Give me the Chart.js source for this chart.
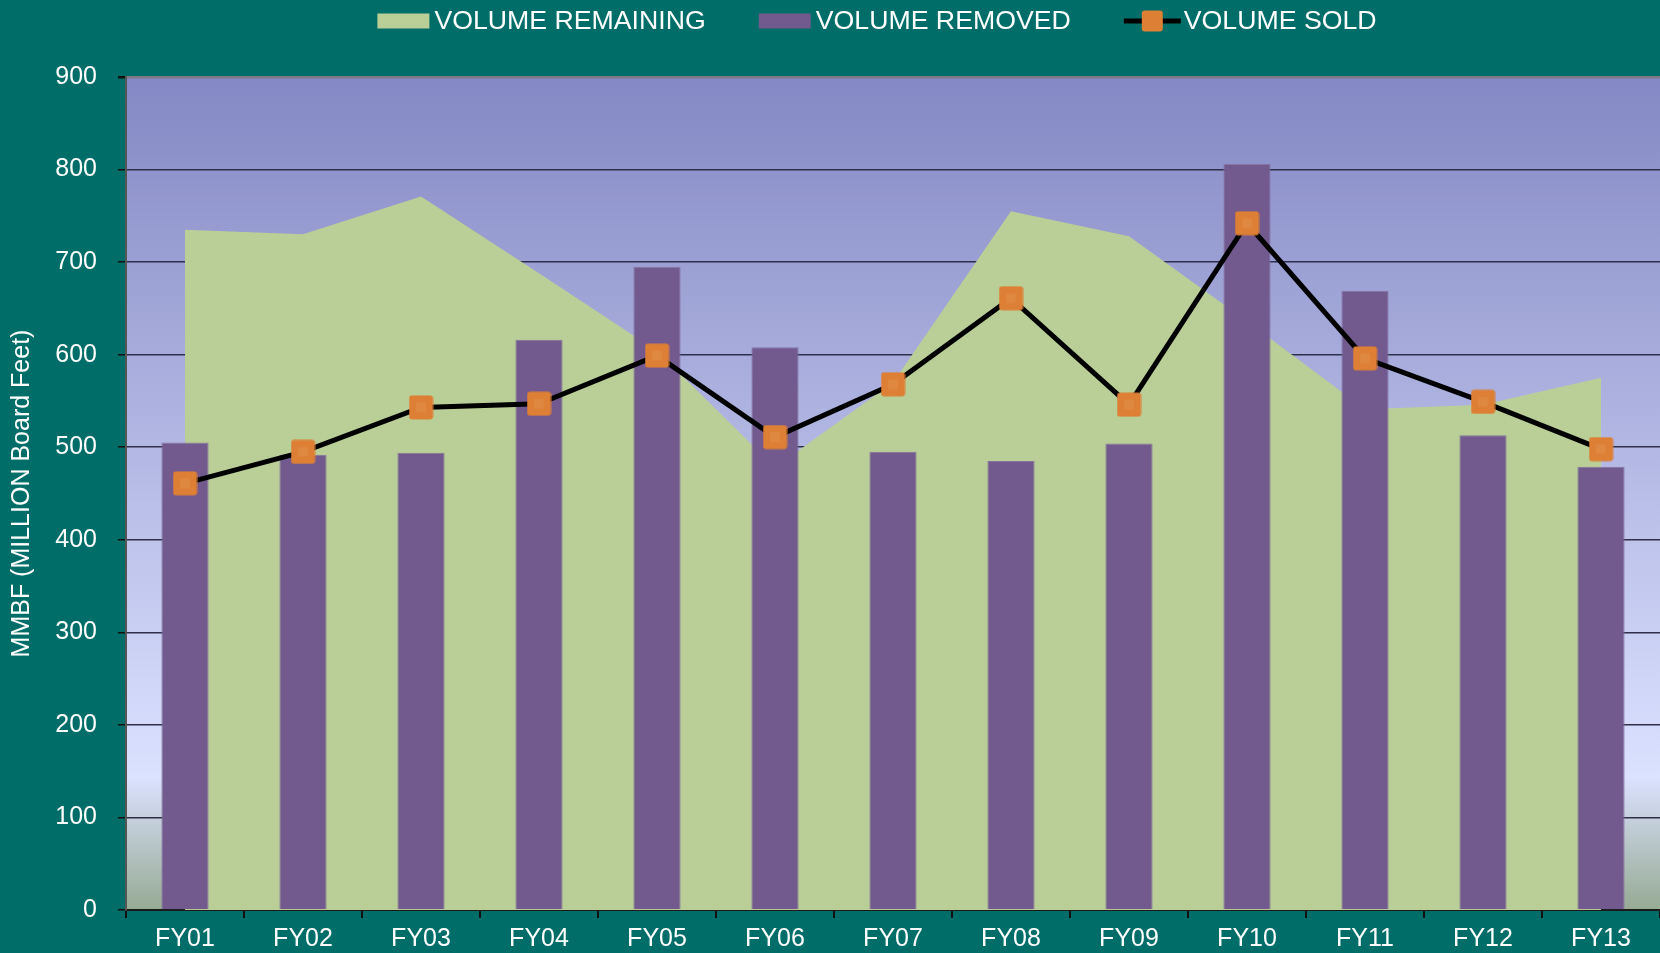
<!DOCTYPE html>
<html>
<head>
<meta charset="utf-8">
<title>Timber volume FY01-FY13</title>
<script src="https://cdn.jsdelivr.net/npm/chart.js@4/dist/chart.umd.min.js"></script>
<style>
  html, body { margin: 0; padding: 0; background: #006d69; }
  #wrap { width: 1660px; height: 953px; }
</style>
</head>
<body>
<div id="wrap"><canvas id="chart" width="1660" height="953"></canvas></div>
<script>
// values (MMBF)
const years = ['FY01', 'FY02', 'FY03', 'FY04', 'FY05', 'FY06', 'FY07', 'FY08', 'FY09', 'FY10', 'FY11', 'FY12', 'FY13'];
const volumeRemaining = [735, 730, 771, 688, 604, 478, 570, 755, 728, 636, 541, 546, 575];
const volumeRemoved = [505, 492, 494, 616, 695, 608, 495, 485, 504, 806, 669, 513, 479];
const volumeSold = [461, 495, 543, 547, 599, 511, 568, 661, 546, 742, 596, 549, 498];
const yAxisMax = 900;
const yAxisStep = 100;

const TEAL = '#006d69';
const GREEN = '#bacf97';
const PURPLE = '#72598e';
const ORANGE = '#dd7f34';
const FONT = '"Liberation Sans", Arial, sans-serif';

function makeMarker(size) {
  const c = document.createElement('canvas');
  c.width = size;
  c.height = size;
  const x = c.getContext('2d');
  x.fillStyle = ORANGE;
  x.beginPath();
  x.roundRect(0.5, 0.5, size - 1, size - 1, 3);
  x.fill();
  // faint lighter centre, like the bevel on the original markers
  x.fillStyle = 'rgba(255,255,255,0.07)';
  x.fillRect(size * 0.3, size * 0.3, size * 0.4, size * 0.4);
  return c;
}

const plotBackground = {
  id: 'plotBackground',
  beforeDraw(chart) {
    const { ctx, chartArea: a } = chart;
    ctx.save();
    ctx.fillStyle = TEAL;
    ctx.fillRect(0, 0, chart.width, chart.height);
    const g = ctx.createLinearGradient(0, a.top, 0, a.bottom);
    g.addColorStop(0, '#8488c4');
    g.addColorStop(0.84, '#dbe2ff');
    g.addColorStop(1, '#96aa93');
    ctx.fillStyle = g;
    ctx.fillRect(a.left, a.top, a.right - a.left, a.bottom - a.top);
    ctx.restore();
  },
};

// legend strip across the top (boxes for area/bars, line + marker for the sold series)
const topLegend = {
  id: 'topLegend',
  afterDraw(chart) {
    const ctx = chart.ctx;
    const centerX = 877;
    const y = 21;
    const gap = 53;
    ctx.save();
    ctx.font = `26.7px ${FONT}`;
    ctx.textBaseline = 'middle';
    const items = chart.data.datasets.map((ds) => {
      const isLine = ds.legendKind === 'line';
      const iconW = isLine ? 57 : 52;
      const textGap = isLine ? 3 : 5;
      const w = iconW + textGap + ctx.measureText(ds.label).width;
      return { ds, isLine, iconW, textGap, w };
    });
    const total = items.reduce((s, it) => s + it.w, 0) + gap * (items.length - 1);
    let x = centerX - total / 2;
    items.forEach((it) => {
      if (it.isLine) {
        ctx.fillStyle = '#000';
        ctx.fillRect(x, y - 2.5, it.iconW, 5);
        ctx.fillStyle = ORANGE;
        ctx.beginPath();
        ctx.roundRect(x + it.iconW / 2 - 10.5, y - 10.5, 21, 21, 3);
        ctx.fill();
      } else {
        ctx.fillStyle = it.ds.backgroundColor;
        ctx.fillRect(x, y - 7.5, it.iconW, 15);
      }
      ctx.fillStyle = '#fff';
      ctx.fillText(it.ds.label, x + it.iconW + it.textGap, y + 1);
      x += it.w + gap;
    });
    ctx.restore();
  },
};

new Chart(document.getElementById('chart'), {
  type: 'bar',
  data: {
    labels: years,
    datasets: [
      {
        type: 'line',
        label: 'VOLUME REMAINING',
        legendKind: 'box',
        data: volumeRemaining,
        fill: 'origin',
        backgroundColor: GREEN,
        borderWidth: 0,
        pointRadius: 0,
        tension: 0,
        order: 3,
      },
      {
        type: 'bar',
        label: 'VOLUME REMOVED',
        legendKind: 'box',
        data: volumeRemoved,
        backgroundColor: PURPLE,
        borderColor: '#8574a0',
        borderWidth: 1,
        barPercentage: 0.4,
        categoryPercentage: 1,
        order: 2,
      },
      {
        type: 'line',
        label: 'VOLUME SOLD',
        legendKind: 'line',
        data: volumeSold,
        borderColor: '#000',
        borderWidth: 5,
        pointStyle: makeMarker(25),
        pointRadius: 12,
        fill: false,
        tension: 0,
        order: 1,
      },
    ],
  },
  options: {
    responsive: false,
    devicePixelRatio: 1,
    animation: false,
    // no auto room for the markers: the plot runs to the right edge of the canvas
    layout: { autoPadding: false, padding: { top: 77, right: 0, bottom: 0, left: 0 } },
    plugins: {
      legend: { display: false },
      tooltip: { enabled: false },
    },
    scales: {
      x: {
        z: 1, // axis line sits on top of the area and bars
        offset: true,
        grid: { offset: true, drawOnChartArea: false, tickLength: 8, color: '#111', lineWidth: 2 },
        border: { color: '#1a1a1a', width: 2 },
        ticks: { color: '#fff', font: { size: 25, family: FONT }, padding: 6 },
        afterFit(s) { s.height = 43; },
      },
      y: {
        min: 0,
        max: yAxisMax,
        ticks: { stepSize: yAxisStep, color: '#fff', font: { size: 25, family: FONT }, padding: 21 },
        grid: {
          color: (c) => (c.tick && c.tick.value === yAxisMax ? '#7b7b86' : '#2f2f4a'),
          lineWidth: (c) => (c.tick && c.tick.value === yAxisMax ? 2.5 : 1.5),
          tickLength: 8,
          tickColor: '#111',
        },
        border: { color: '#555', width: 2 },
        title: {
          display: true,
          text: 'MMBF (MILLION Board Feet)',
          color: '#fff',
          font: { size: 25, family: FONT },
          padding: { top: 7, bottom: 0 },
        },
        afterFit(s) { s.width = 126; },
      },
    },
  },
  plugins: [plotBackground, topLegend],
});
</script>
</body>
</html>
